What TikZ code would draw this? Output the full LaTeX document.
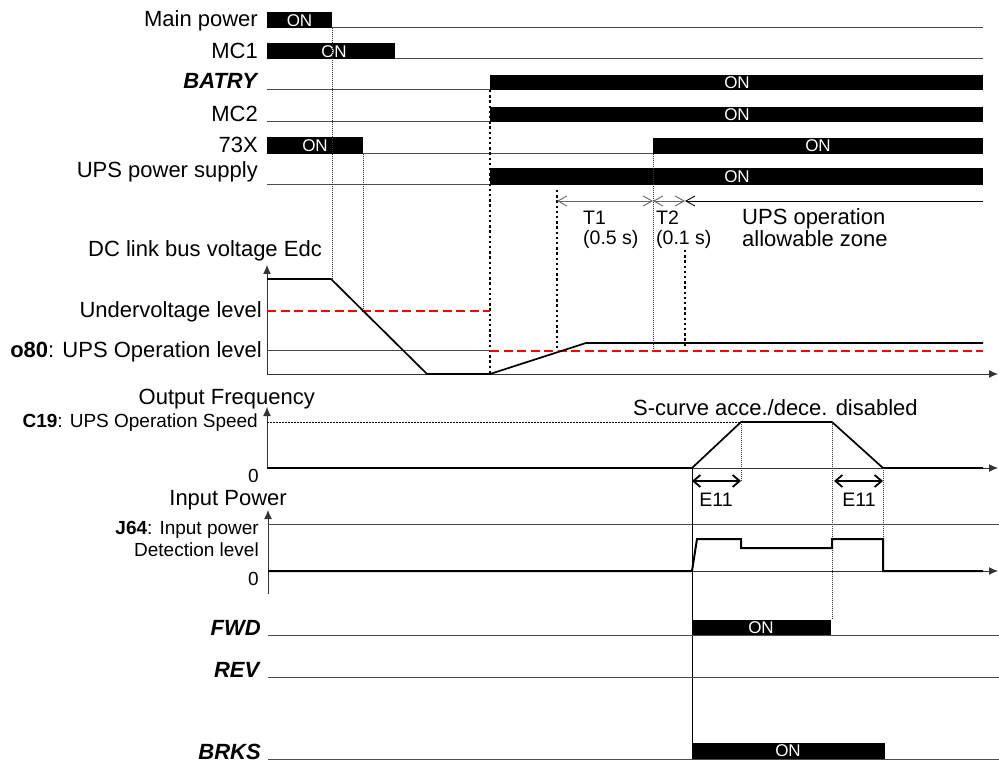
\documentclass[tikz,border=0pt]{standalone}
\usepackage{fontspec}
\setmainfont{Liberation Sans}
\usetikzlibrary{arrows.meta,positioning,calc}
\tikzstyle{sig} = [draw=black!70, line width=1pt]
\tikzstyle{ontext} = [text=white, inner sep=0pt, font=\fontsize{17}{17}\selectfont]
\tikzstyle{lbl} = [anchor=base east, inner sep=0pt, font=\fontsize{22}{24}\selectfont]
\tikzstyle{slbl} = [anchor=base east, inner sep=0pt, font=\fontsize{19}{21}\selectfont]
\tikzstyle{note} = [anchor=base west, inner sep=0pt, font=\fontsize{19.5}{21}\selectfont]
\tikzstyle{wave} = [black, line width=1.7pt]
\tikzstyle{reddash} = [red, line width=2.5pt, dash pattern=on 9pt off 4.5pt]
\tikzstyle{bigdot} = [black, line width=2.4pt, dash pattern=on 2.4pt off 2.8pt]
\tikzstyle{thindot} = [black!80, line width=0.8pt, dash pattern=on 1pt off 1pt]
\tikzstyle{axis} = [black!80, line width=1pt, -{Latex[length=9pt,width=8pt]}]
\tikzstyle{tspan} = [black!60, line width=0.9pt, {Straight Barb[length=9pt,width=10pt]}-{Straight Barb[length=9pt,width=10pt]}]
\tikzstyle{espan} = [black, line width=1.8pt, {Straight Barb[length=7pt,width=12pt]}-{Straight Barb[length=7pt,width=12pt]}]

\begin{document}
\begin{tikzpicture}[x=1pt,y=-1pt]
\useasboundingbox (0,0) rectangle (999,762);

% signal labels
\node[lbl] (mainpw) at (258,27) {Main power};
\node[lbl] (mc1) at (258,59) {MC1};
\node[lbl] (batry) at (259,89) {\textbf{\textit{BATRY}}};
\node[lbl] (mc2) at (258,122) {MC2};
\node[lbl] (x73) at (258,153) {73X};
\node[lbl] (upsps) at (258,178) {UPS power supply};

% signal lines
\foreach \y in {28,59,90,122,154,185}
  \draw[sig] (267,\y) -- (983,\y);

% ON bars
\fill (267,12) rectangle (332,28);
\node[ontext] (mpon) at (299.5,20.5) {ON};
\fill (267,43) rectangle (395,59);
\node[ontext] (mc1on) at (334,51.5) {ON};
\fill (267,137) rectangle (363,154);
\node[ontext] (x73on) at (315,146) {ON};
\fill (490,75) rectangle (983,90);
\node[ontext] (baton) at (737,82.5) {ON};
\fill (490,107) rectangle (983,122);
\node[ontext] (mc2on) at (737,114.5) {ON};
\fill (653,138) rectangle (983,154);
\node[ontext] (x73on2) at (818,146) {ON};
\fill (490,168) rectangle (983,185);
\node[ontext] (upson) at (737,177) {ON};

% time marks
\draw[thindot] (332,28) -- (332,279);
\draw[thindot] (363,154) -- (363,311);
\draw[bigdot] (490,90) -- (490,374);
\draw[bigdot] (557,190) -- (557,350);
\draw[thindot] (653,154) -- (653,351);
\draw[bigdot] (685,250) -- (685,348);

% T1 / T2 zone
\draw[tspan] (557,201) -- (653,201);
\draw[tspan] (653,201) -- (685,201);
\draw[black, line width=0.9pt, {Straight Barb[length=9pt,width=10pt]}-] (685,201) -- (983,201);
\node[note] (t1) at (583,225) {T1};
\node[note] (t1v) at (583,245) {(0.5 s)};
\node[note] (t2) at (656,225) {T2};
\node[note] (t2v) at (656,245) {(0.1 s)};
\node[anchor=base west, inner sep=0pt, font=\fontsize{22}{24}\selectfont] (zone) at (742,225) {UPS operation};
\node[anchor=base west, inner sep=0pt, font=\fontsize{22}{24}\selectfont] (zone2) at (742,247) {allowable zone};

% DC link bus voltage
\node[lbl] (edc) at (322,257) {DC link bus voltage Edc};
\node[lbl] (uvl) at (262,317) {Undervoltage level};
\node[lbl] (o80) at (262,357) {\textbf{o80}: UPS Operation level};
\draw[axis] (267,374) -- (267,265);
\draw[axis] (267,374) -- (998,374);
\draw[sig] (267,350) -- (490,350);
\draw[reddash] (267,311) -- (490,311);
\draw[reddash] (490,351) -- (983,351);
\draw[wave] (267,279) -- (331,279) -- (427,374) -- (490,374) -- (586,343) -- (983,343);

% output frequency
\node[lbl] (ofreq) at (315,404) {Output Frequency};
\node[slbl] (c19) at (258,427) {\textbf{C19}: UPS Operation Speed};
\node[slbl] (f0) at (259,482) {0};
\node[anchor=base west, inner sep=0pt, font=\fontsize{22}{24}\selectfont] (scurve) at (633,415) {S-curve acce./dece. disabled};
\draw[axis] (267,468) -- (267,407);
\draw[axis] (267,468) -- (998,468);
\draw[black, line width=0.8pt, dash pattern=on 2pt off 1pt] (267,422) -- (741,422);
\draw[wave] (267,468) -- (692,468) -- (741,422) -- (832,422) -- (883,468) -- (983,468);
\draw[thindot] (741,422) -- (741,482);
\draw[thindot] (832,422) -- (832,620);
\draw[thindot] (883,468) -- (883,571);
\draw[espan] (692,481) -- (741,481);
\draw[espan] (834,481) -- (883,481);
\node[note, anchor=base] (e11a) at (716,506) {E11};
\node[note, anchor=base] (e11b) at (859,506) {E11};

% input power
\node[lbl] (inpw) at (287,505) {Input Power};
\node[slbl] (j64) at (259,534) {\textbf{J64}: Input power};
\node[slbl] (j64b) at (259,556) {Detection level};
\node[slbl] (p0) at (259,585) {0};
\draw[axis] (268,594) -- (268,510);
\draw[axis] (268,571) -- (998,571);
\draw[sig] (268,524) -- (999,524);
\draw[black, line width=2pt] (268,571) -- (692,571) -- (697,539) -- (741,539) -- (741,548) -- (832,548) -- (832,539) -- (883,539) -- (883,571) -- (983,571);

% run commands
\draw[black, line width=1pt] (692,468) -- (692,759);
\node[lbl] (fwd) at (261,635) {\textbf{\textit{FWD}}};
\node[lbl] (rev) at (261,677) {\textbf{\textit{REV}}};
\node[lbl] (brks) at (261,759) {\textbf{\textit{BRKS}}};
\draw[sig] (268,635) -- (999,635);
\draw[sig] (268,677) -- (999,677);
\draw[sig] (268,759) -- (999,759);
\fill (692,620) rectangle (831,635);
\node[ontext] (fwdon) at (761,627.5) {ON};
\fill (692,743) rectangle (885,759);
\node[ontext] (brkson) at (788,751) {ON};
\end{tikzpicture}
\end{document}
